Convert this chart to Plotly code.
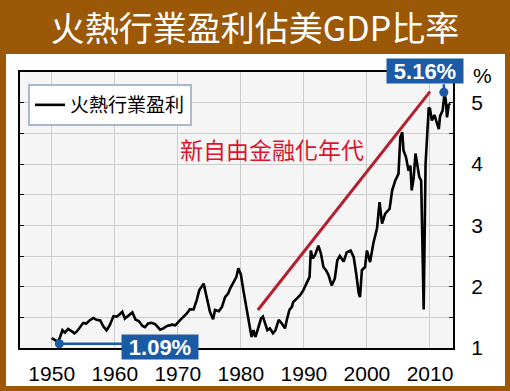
import plotly.graph_objects as go

# ---- data ----
years = [1950.0, 1950.5, 1951.0, 1951.3, 1951.7, 1952.1, 1952.6, 1953.2, 1953.6, 1954.0,
         1954.5, 1955.0, 1955.5, 1956.0, 1956.6, 1957.1, 1957.7, 1958.2, 1958.7, 1959.2,
         1959.8, 1960.3, 1960.8, 1961.2, 1961.6, 1962.2, 1962.8, 1963.3, 1963.8, 1964.4,
         1964.8, 1965.3, 1965.8, 1966.4, 1967.2, 1967.7, 1968.3, 1969.1, 1969.6, 1970.4,
         1970.9, 1971.4, 1971.9, 1972.5, 1973.0, 1973.4, 1974.1, 1974.6, 1975.1, 1975.6,
         1975.9, 1976.5, 1977.0, 1977.5, 1978.0, 1978.3, 1978.7, 1979.3, 1979.6, 1980.0,
         1980.4, 1980.9, 1981.2, 1981.5, 1981.7, 1982.0, 1982.3, 1982.5, 1982.8, 1983.2,
         1983.5, 1983.9, 1984.2, 1984.6, 1985.1, 1985.5, 1986.0, 1986.5, 1987.0, 1987.3,
         1987.7, 1988.1, 1988.3, 1988.9, 1989.4, 1989.9, 1990.5, 1990.9, 1991.1, 1991.4,
         1991.8, 1992.3, 1992.7, 1993.1, 1993.5, 1993.9, 1994.4, 1994.9, 1995.3, 1995.7,
         1996.3, 1996.8, 1997.4, 1997.9, 1998.3, 1998.7, 1998.9, 1999.2, 1999.7, 2000.0,
         2000.5, 2001.0, 2001.6, 2002.0, 2002.4, 2002.9, 2003.6, 2004.0, 2004.5, 2005.0,
         2005.3, 2005.6, 2005.8, 2006.2, 2006.6, 2006.9, 2007.1, 2007.4, 2007.7, 2008.0,
         2008.3, 2008.6, 2008.8, 2009.0, 2009.3, 2009.5, 2009.8, 2010.0, 2010.3, 2010.7,
         2011.1, 2011.4, 2011.6, 2012.0, 2012.3, 2012.5, 2012.7, 2013.0, 2013.2]
profit_share = [1.16, 1.13, 1.10, 1.17, 1.29, 1.25, 1.31, 1.27, 1.24, 1.27,
                1.34, 1.41, 1.40, 1.45, 1.49, 1.46, 1.45, 1.35, 1.29, 1.37,
                1.52, 1.51, 1.55, 1.59, 1.48, 1.53, 1.58, 1.46, 1.44, 1.36,
                1.34, 1.40, 1.41, 1.39, 1.30, 1.32, 1.36, 1.38, 1.37, 1.46,
                1.51, 1.56, 1.63, 1.63, 1.78, 1.94, 2.05, 1.83, 1.59, 1.47,
                1.62, 1.60, 1.67, 1.83, 1.89, 1.97, 2.05, 2.16, 2.30, 2.20,
                1.94, 1.62, 1.46, 1.27, 1.18, 1.29, 1.18, 1.24, 1.35, 1.48,
                1.51, 1.40, 1.29, 1.32, 1.24, 1.29, 1.46, 1.40, 1.32, 1.46,
                1.62, 1.67, 1.75, 1.81, 1.86, 1.94, 2.08, 2.16, 2.59, 2.46,
                2.52, 2.67, 2.54, 2.32, 2.27, 2.19, 2.02, 2.13, 2.43, 2.50,
                2.41, 2.56, 2.59, 2.48, 2.21, 1.89, 1.83, 2.27, 2.32, 2.59,
                2.40, 2.70, 2.95, 3.38, 3.03, 3.19, 3.27, 3.57, 3.73, 3.84,
                4.44, 4.52, 4.22, 4.11, 3.89, 3.97, 3.57, 3.76, 4.17, 4.00,
                3.79, 3.73, 2.48, 1.63, 4.00, 4.44, 4.92, 4.90, 4.71, 4.80,
                4.65, 4.57, 4.78, 4.87, 5.14, 5.05, 4.76, 4.98, 4.96]

trend_years = [1982.7, 2010.0]
trend_values = [1.62, 5.18]

low_year, low_value, low_label = 1951.2, 1.07, "1.09%"
high_year, high_value, high_label = 2012.2, 5.17, "5.16%"

x_ticks = [1950, 1960, 1970, 1980, 1990, 2000, 2010]
y_ticks = [1, 1.5, 2, 2.5, 3, 3.5, 4, 4.5, 5, 5.5]
y_ticktext = ["1", "", "2", "", "3", "", "4", "", "5", ""]

series_name = "火熱行業盈利"
title_text = "火熱行業盈利佔美GDP比率"
era_text = "新自由金融化年代"

BROWN = "#9B5806"
BLUE = "#1B5AA5"
RED_LINE = "#B3202F"
RED_TEXT = "#DC1430"
CJK = "Noto Sans CJK TC, Noto Sans CJK SC, sans-serif"
LAT = "Liberation Sans, Arial, sans-serif"

W, H = 510, 391
L, R, T, B = 20, 57, 72, 43
PW, PH = W - L - R, H - T - B


def px_x(p):
    return (p - L) / PW


def px_y(p):
    return (H - B - p) / PH


fig = go.Figure()

fig.add_trace(go.Scatter(x=years, y=profit_share, mode="lines", name=series_name,
                         line=dict(color="black", width=2.6)))
fig.add_trace(go.Scatter(x=trend_years, y=trend_values, mode="lines", showlegend=False,
                         line=dict(color=RED_LINE, width=3)))
# connectors
fig.add_trace(go.Scatter(x=[low_year, 1961.2], y=[low_value, low_value], mode="lines",
                         showlegend=False, line=dict(color=BLUE, width=2.5)))
fig.add_trace(go.Scatter(x=[high_year, high_year], y=[high_value, 5.3], mode="lines",
                         showlegend=False, line=dict(color=BLUE, width=2.5), cliponaxis=False))
fig.add_trace(go.Scatter(x=[low_year, high_year], y=[low_value, high_value], mode="markers",
                         showlegend=False, cliponaxis=False,
                         marker=dict(color=BLUE, size=9)))

# brown frame (top band with title, side and bottom strips)
anc = dict(xanchor="center", yanchor="middle", showarrow=False, xref="paper", yref="paper")
frame = dict(bgcolor=BROWN, borderpad=0, borderwidth=0, font=dict(size=1, color=BROWN), **anc)
fig.add_annotation(x=px_x(W / 2), y=px_y(26.5), text=title_text, width=W + 4, height=55,
                   bgcolor=BROWN, borderpad=0, borderwidth=0,
                   font=dict(family=CJK, size=34, color="white"), **anc)
fig.add_annotation(x=px_x(2.5), y=px_y(H / 2), text=" ", width=6, height=H + 4, **frame)
fig.add_annotation(x=px_x(W - 2.5), y=px_y(H / 2), text=" ", width=6, height=H + 4, **frame)
fig.add_annotation(x=px_x(W / 2), y=px_y(H - 2.5), text=" ", width=W + 4, height=6, **frame)

fig.add_annotation(x=1985.0, y=4.25, xref="x", yref="y", text=era_text, showarrow=False,
                   xanchor="center", yanchor="middle",
                   font=dict(family=CJK, size=23, color=RED_TEXT))
fig.add_annotation(x=px_x(425), y=px_y(71), text="<b>" + high_label + "</b>",
                   bgcolor=BLUE, width=76, height=24, borderpad=0,
                   font=dict(family=LAT, size=22, color="white"), **anc)
fig.add_annotation(x=px_x(160), y=px_y(346.5), text="<b>" + low_label + "</b>",
                   bgcolor=BLUE, width=76, height=24, borderpad=0,
                   font=dict(family=LAT, size=22, color="white"), **anc)
fig.add_annotation(x=px_x(482), y=px_y(75), text="%",
                   font=dict(family=LAT, size=21, color="black"), **anc)

axis_common = dict(showline=True, linecolor="black", linewidth=2, mirror=True,
                   showgrid=True, gridcolor="#CCCCCC", gridwidth=1, zeroline=False,
                   automargin=False,
                   tickfont=dict(family=LAT, size=21, color="black"))

fig.update_xaxes(range=[1944.97, 2013.65], tickvals=x_ticks, ticks="",
                 ticklabelstandoff=6, **axis_common)
fig.update_yaxes(range=[1, 5.5], tickvals=y_ticks, ticktext=y_ticktext, side="right",
                 ticks="inside", ticklen=4, tickcolor="black", tickwidth=1,
                 ticklabelstandoff=12, **axis_common)
fig.update_yaxes(mirror="ticks")

fig.update_layout(
    width=W, height=H,
    margin=dict(l=L, r=R, t=T, b=B, autoexpand=False),
    paper_bgcolor="white",
    plot_bgcolor="#F5F5F5",
    showlegend=True,
    legend=dict(x=px_x(28), y=px_y(84), xanchor="left", yanchor="top", bgcolor="white",
                bordercolor="#A9B9CB", borderwidth=2,
                font=dict(family=CJK, size=19, color="black")),
    hovermode=False,
)

fig.write_html("out.html", config={"displayModeBar": False},
               post_script="document.body.style.margin='0';document.body.style.padding='0';")
